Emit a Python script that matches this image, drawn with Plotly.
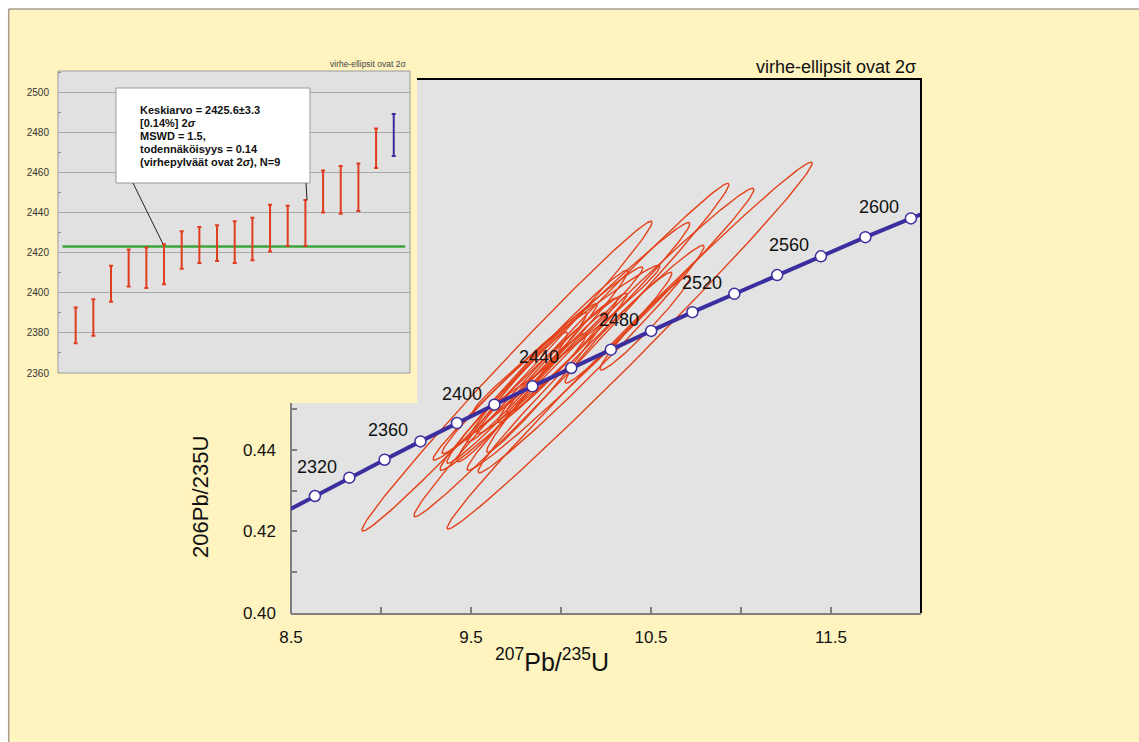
import numpy as np
import plotly.graph_objects as go

W, H = 1139, 742
FONT = "Arial, Liberation Sans, sans-serif"

# ---------------- data: concordia (age, 207Pb/235U, 206Pb/238U) ----------------
conc_age = [2280, 2300, 2320, 2340, 2360, 2380, 2400, 2420, 2440, 2460,
            2480, 2500, 2520, 2540, 2560, 2580, 2600, 2620]
conc_x = [8.445, 8.633, 8.824, 9.020, 9.219, 9.422, 9.630, 9.841, 10.057, 10.277,
          10.501, 10.730, 10.963, 11.201, 11.444, 11.691, 11.944, 12.201]
conc_y = [0.4243, 0.4287, 0.4332, 0.4376, 0.4421, 0.4466, 0.4511, 0.4556, 0.4601, 0.4646,
          0.4692, 0.4738, 0.4783, 0.4829, 0.4875, 0.4922, 0.4968, 0.5014]
label_ages = [2320, 2360, 2400, 2440, 2480, 2520, 2560, 2600]

# ---------------- data: error ellipses (2 sigma) ----------------
ell_cx = [9.700, 10.058, 10.381, 10.275, 10.022, 10.167, 9.872, 9.869, 10.031,
          10.319, 10.467, 9.770, 9.810, 9.920, 9.950, 9.920, 9.730, 9.980]
ell_cy = [0.4581, 0.4645, 0.4656, 0.4696, 0.4654, 0.4623, 0.4612, 0.4604, 0.4672,
          0.4700, 0.4712, 0.4575, 0.4578, 0.4566, 0.4612, 0.4588, 0.4530, 0.4620]
ell_sx = [0.806, 0.875, 1.014, 0.797, 0.694, 0.628, 0.583, 0.503, 0.519,
          0.297, 0.250, 0.431, 0.333, 0.333, 0.417, 0.222, 0.306, 0.333]
ell_sy = [0.0380, 0.0409, 0.0450, 0.0346, 0.0304, 0.0279, 0.0237, 0.0237, 0.0181,
          0.0136, 0.0116, 0.0184, 0.0159, 0.0172, 0.0172, 0.0098, 0.0159, 0.0153]
ell_rho = [0.993, 0.993, 0.994, 0.991, 0.990, 0.989, 0.989, 0.988, 0.985,
           0.978, 0.972, 0.985, 0.982, 0.982, 0.985, 0.970, 0.978, 0.982]

# ---------------- data: inset (ages with 2 sigma error bars) ----------------
bar_low = [2374.8, 2378.6, 2395.5, 2403.1, 2402.3, 2404.2, 2411.9, 2414.8, 2415.8,
           2414.8, 2416.2, 2420.5, 2423.3, 2423.3, 2440.0, 2439.4, 2440.7, 2462.1]
bar_high = [2392.6, 2396.8, 2413.5, 2421.6, 2422.5, 2424.1, 2430.6, 2432.7, 2433.6,
            2435.6, 2437.4, 2443.8, 2443.3, 2446.2, 2460.9, 2463.2, 2464.4, 2481.9]
rej_low = [2468.2]
rej_high = [2489.1]
mean_age = 2423.0
mean_span = [0.25, 19.65]

inset_lines = ["Keskiarvo = 2425.6±3.3", "[0.14%] 2<i>σ</i>", "MSWD = 1.5,",
               "todennäköisyys = 0.14", "(virhepylväät ovat 2<i>σ</i>), N=9"]
title_text = "virhe-ellipsit ovat 2σ"


def px(x):
    return x / W


def py(y):
    return 1 - y / H


# ellipse outlines
t = np.linspace(0, 2 * np.pi, 181)
ex, ey = [], []
for cx, cy, sx, sy, r in zip(ell_cx, ell_cy, ell_sx, ell_sy, ell_rho):
    ex += list(cx + sx * np.cos(t)) + [None]
    ey += list(cy + sy * (r * np.cos(t) + np.sqrt(1 - r * r) * np.sin(t))) + [None]

fig = go.Figure()
fig.add_trace(go.Scatter(x=ex, y=ey, mode="lines", line=dict(color="#E4421A", width=1.4),
                         hoverinfo="skip", xaxis="x", yaxis="y"))
fig.add_trace(go.Scatter(x=conc_x, y=conc_y, mode="lines+markers",
                         line=dict(color="#3B2F9F", width=4),
                         marker=dict(size=11, color="white", line=dict(color="#3B2F9F", width=1.5)),
                         xaxis="x", yaxis="y"))

# inset traces
n = len(bar_low)
bx = list(range(1, n + 1))
fig.add_trace(go.Scatter(x=mean_span, y=[mean_age, mean_age], mode="lines",
                         line=dict(color="#3AA63A", width=2.5), xaxis="x2", yaxis="y2"))
fig.add_trace(go.Scatter(
    x=bx, y=[(a + b) / 2 for a, b in zip(bar_low, bar_high)], mode="markers",
    marker=dict(size=1, color="rgba(0,0,0,0)"),
    error_y=dict(type="data", symmetric=True, array=[(b - a) / 2 for a, b in zip(bar_low, bar_high)],
                 color="#E03C20", thickness=2, width=2),
    xaxis="x2", yaxis="y2"))
fig.add_trace(go.Scatter(
    x=[n + 1], y=[(rej_low[0] + rej_high[0]) / 2], mode="markers",
    marker=dict(size=1, color="rgba(0,0,0,0)"),
    error_y=dict(type="data", symmetric=True, array=[(rej_high[0] - rej_low[0]) / 2],
                 color="#3B2F9F", thickness=2, width=2),
    xaxis="x2", yaxis="y2"))

shapes = []


def rect(x0, y0, x1, y1, layer="below", **kw):
    return dict(type="rect", xref="paper", yref="paper", x0=px(x0), x1=px(x1),
                y0=py(y1), y1=py(y0), layer=layer, **kw)


def seg(x0, y0, x1, y1, color, width, layer="below"):
    return dict(type="line", xref="paper", yref="paper", x0=px(x0), x1=px(x1),
                y0=py(y0), y1=py(y1), layer=layer, line=dict(color=color, width=width))


# page frame (white margin strips, then the slide edge)
shapes.append(rect(0, 0, W, 9, fillcolor="white", line=dict(width=0)))
shapes.append(rect(0, 0, 8, H, fillcolor="white", line=dict(width=0)))
shapes.append(seg(8.7, 9, W, 9, "#A69E90", 1.5))
shapes.append(seg(8.7, 9, 8.7, H, "#A69E90", 1.5))

# main plot background (L-shaped, inset covers upper-left corner)
pts = [(417, 79), (921, 79), (921, 613), (291, 613), (291, 403), (417, 403)]
path = "M " + " L ".join(f"{px(a):.5f},{py(b):.5f}" for a, b in pts) + " Z"
shapes.append(dict(type="path", xref="paper", yref="paper", path=path,
                   fillcolor="#E3E3E3", line=dict(width=0), layer="below"))
shapes.append(seg(417, 79, 922, 79, "black", 2, "above"))
shapes.append(seg(921, 79, 921, 613, "black", 2, "above"))
shapes.append(seg(291, 403, 291, 614, "#7F7F7F", 2))

# inset background
shapes.append(rect(58, 71, 410, 373, fillcolor="#E1E1E1", line=dict(color="#9A9A9A", width=1)))
# inset statistics box and leader lines
shapes.append(rect(116, 88, 310, 183, layer="above", fillcolor="white",
                   line=dict(color="#9A9A9A", width=1)))
shapes.append(seg(133, 183, 163, 244, "#222222", 1, "above"))
shapes.append(seg(306, 183, 307, 200, "#222222", 1, "above"))

annotations = []
for age in label_ages:
    i = conc_age.index(age)
    annotations.append(dict(x=conc_x[i], y=conc_y[i], xref="x", yref="y", text=str(age),
                            showarrow=False, xanchor="center", yanchor="middle",
                            xshift=-32, yshift=11, font=dict(family=FONT, size=18, color="#111111")))
for k, line_text in enumerate(inset_lines):
    annotations.append(dict(x=px(138), y=py(109.5 + 13.1 * k), xref="paper", yref="paper",
                            text="<b>" + line_text + "</b>", showarrow=False,
                            xanchor="left", yanchor="middle",
                            font=dict(family=FONT, size=11, color="#111111")))
annotations += [
    dict(x=px(918), y=py(67), xref="paper", yref="paper", text=title_text, showarrow=False,
         xanchor="right", yanchor="middle", font=dict(family=FONT, size=18, color="#111111")),
    dict(x=px(408), y=py(64), xref="paper", yref="paper", text=title_text, showarrow=False,
         xanchor="right", yanchor="middle", font=dict(family=FONT, size=8.5, color="#444444")),
    dict(x=px(200), y=py(497), xref="paper", yref="paper", text="206Pb/235U", textangle=-90,
         showarrow=False, xanchor="center", yanchor="middle",
         font=dict(family=FONT, size=22, color="#111111")),
    dict(x=px(552), y=py(660), xref="paper", yref="paper",
         text="<sup>207</sup>Pb/<sup>235</sup>U", showarrow=False,
         xanchor="center", yanchor="middle", font=dict(family=FONT, size=25, color="#111111")),
]

fig.update_layout(
    template="none",
    width=W, height=H, autosize=False, margin=dict(l=0, r=0, t=0, b=0, pad=0, autoexpand=False),
    paper_bgcolor="#FFF4C0", plot_bgcolor="rgba(0,0,0,0)", showlegend=False,
    font=dict(family=FONT),
    xaxis=dict(domain=[px(291), px(921)], range=[8.5, 12.0], anchor="y", automargin=False,
               tickmode="array", tickvals=[8.5, 9.5, 10.5, 11.5],
               ticktext=["8.5", "9.5", "10.5", "11.5"],
               ticks="inside", ticklen=6, tickwidth=1.5, tickcolor="#7F7F7F",
               minor=dict(tickmode="array", tickvals=[9.0, 10.0, 11.0, 12.0], ticks="inside",
                          ticklen=6, tickwidth=1.5, tickcolor="#7F7F7F", showgrid=False),
               showline=True, linecolor="#7F7F7F", linewidth=2, showgrid=False, zeroline=False,
               tickfont=dict(size=17, color="#111111"), ticklabelstandoff=8),
    yaxis=dict(domain=[py(613), py(79)], range=[0.40, 0.531], anchor="x", automargin=False,
               tickmode="array", tickvals=[0.40, 0.42, 0.44], ticktext=["0.40", "0.42", "0.44"],
               ticks="inside", ticklen=6, tickwidth=1.5, tickcolor="#7F7F7F",
               minor=dict(tickmode="array", tickvals=[0.41, 0.43, 0.45], ticks="inside",
                          ticklen=6, tickwidth=1.5, tickcolor="#7F7F7F", showgrid=False),
               showline=False, showgrid=False, zeroline=False,
               tickfont=dict(size=17, color="#111111"), ticklabelstandoff=14),
    xaxis2=dict(domain=[px(58), px(410)], range=[0, 19.92], anchor="y2", automargin=False,
                showticklabels=False, ticks="", showgrid=False, zeroline=False, showline=False),
    yaxis2=dict(domain=[py(373), py(71)], range=[2360, 2510.5], anchor="x2", automargin=False,
                tick0=2360, dtick=20, ticks="", showgrid=True, gridcolor="#A8A8A8", gridwidth=1,
                minor=dict(dtick=10, ticks="inside", ticklen=3, tickcolor="#8A8A8A", showgrid=False),
                zeroline=False, showline=False,
                tickfont=dict(size=10, color="#333333"), ticklabelstandoff=8),
    shapes=shapes, annotations=annotations,
)

fig.write_html("out.html", config={"displayModeBar": False},
               post_script="document.body.style.margin='0';"
                           "document.body.style.overflow='hidden';")
